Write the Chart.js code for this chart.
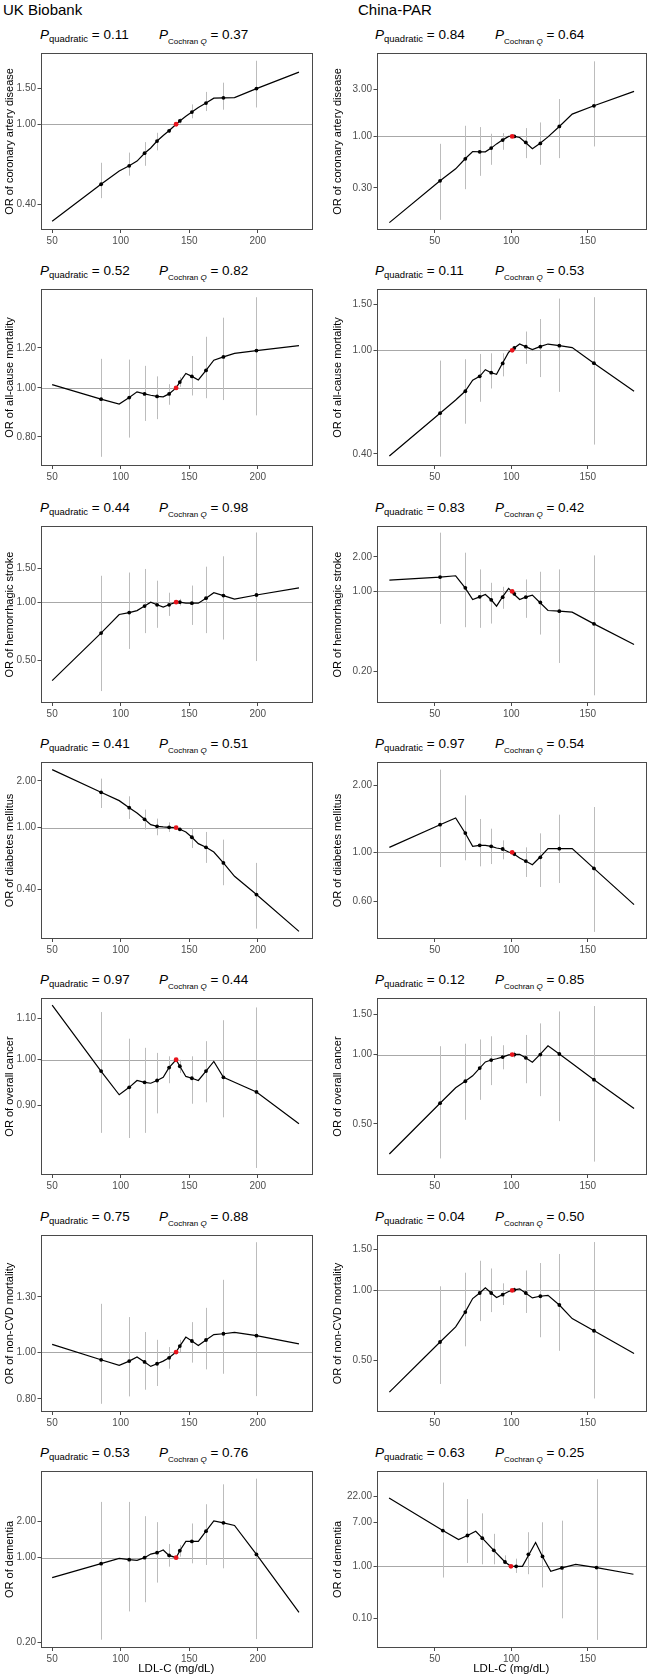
<!DOCTYPE html>
<html>
<head>
<meta charset="utf-8">
<script src="https://cdn.jsdelivr.net/npm/chart.js@4.4.1/dist/chart.umd.min.js"></script>
<style>
  body { margin:0; width:650px; height:1680px; position:relative; background:#fff; overflow:hidden;
         font-family:"Liberation Sans", Arial, sans-serif; color:#000; }
  .hd { position:absolute; top:0; font-size:15px; line-height:19px; }
  .pt { position:absolute; font-size:13.5px; line-height:16px; white-space:nowrap; }
  .pt sub { font-size:9.5px; vertical-align:-3px; line-height:0; }
  .pt sub.cq { font-size:8px; vertical-align:-5px; }
  canvas { position:absolute; }
</style>
</head>
<body>
<div class="hd" style="left:3px">UK Biobank</div>
<div class="hd" style="left:358px">China-PAR</div>
<script>
// ---- datos
const outcomes = ['coronary artery disease', 'all-cause mortality', 'hemorrhagic stroke',
  'diabetes mellitus', 'overall cancer', 'non-CVD mortality', 'dementia'];
const ukPQuad    = ['0.11', '0.52', '0.44', '0.41', '0.97', '0.75', '0.53'];
const ukPCochran = ['0.37', '0.82', '0.98', '0.51', '0.44', '0.88', '0.76'];
const cnPQuad    = ['0.84', '0.11', '0.83', '0.97', '0.12', '0.04', '0.63'];
const cnPCochran = ['0.64', '0.53', '0.42', '0.54', '0.85', '0.50', '0.25'];

const ukXTicks = [50, 100, 150, 200];
const cnXTicks = [50, 100, 150];

// LDL-C de los grupos (sin el de referencia)
const ukLdl    = [85.7, 106.2, 117.4, 126.5, 135.3, 143.1, 151.9, 162.2, 174.9, 199.0];
const cnLdl    = [53.5, 70.0, 79.4, 86.9, 94.4, 102.0, 109.5, 119.0, 131.4, 154.0];
const cnDemLdl = [55.3, 71.4, 81.1, 88.6, 95.9, 103.2, 111.2, 120.4, 133.1, 155.7];
const ukRefLdl = 140.4, cnRefLdl = 100.6, cnDemRefLdl = 99.8;

// vértices de la curva
const ukCurveLdl    = [50, 85.6, 98.9, 106.2, 111.9, 117.4, 121.9, 126.5, 131, 135.2, 140.4, 143.1, 147.5, 151.9, 156.6, 162.2, 167.9, 174.9, 183, 199, 230];
const cnCurveLdl    = [20.4, 53.5, 63.7, 69.9, 74.8, 79.4, 83.1, 86.9, 90.4, 94.2, 98.3, 102, 105.5, 109.3, 113.8, 118.7, 124, 131.4, 139.8, 154, 180.2];
const cnDemCurveLdl = [20.2, 55.3, 65.6, 71.4, 76.8, 81.1, 88.6, 95.9, 99.8, 103.2, 107.3, 115.9, 120.4, 125.8, 133.1, 142.1, 155.7, 179.8];

// UK Biobank
const ukCadCurve = [0.3315, 0.505, 0.587, 0.623, 0.657, 0.719, 0.763, 0.826, 0.880, 0.928, 1.0, 1.038, 1.094, 1.149, 1.21, 1.272, 1.345, 1.35, 1.355, 1.50, 1.81];
const ukCadOr = [0.505, 0.623, 0.719, 0.826, 0.928, 1.038, 1.149, 1.272, 1.35, 1.50];
const ukCadLo = [0.431, 0.557, 0.623, 0.743, 0.905, 1.01, 1.07, 1.162, 1.18, 1.21];
const ukCadHi = [0.645, 0.724, 0.816, 0.907, 0.95, 1.07, 1.253, 1.445, 1.605, 2.06];

const ukAcmCurve = [1.015, 0.950, 0.929, 0.957, 0.982, 0.973, 0.967, 0.962, 0.960, 0.973, 1.0, 1.027, 1.068, 1.054, 1.037, 1.083, 1.135, 1.152, 1.171, 1.186, 1.213];
const ukAcmOr = [0.950, 0.957, 0.973, 0.962, 0.973, 1.027, 1.054, 1.083, 1.152, 1.186];
const ukAcmLo = [0.730, 0.797, 0.860, 0.867, 0.926, 1.005, 0.966, 0.954, 0.946, 0.882];
const ukAcmHi = [1.142, 1.138, 1.106, 1.054, 1.017, 1.05, 1.157, 1.263, 1.378, 1.513];

const ukHsCurve = [0.392, 0.691, 0.863, 0.883, 0.904, 0.954, 1.0, 0.969, 0.943, 0.969, 1.0, 1.0, 0.988, 0.988, 0.988, 1.048, 1.119, 1.081, 1.036, 1.089, 1.186];
const ukHsOr = [0.691, 0.883, 0.954, 0.969, 0.969, 1.0, 0.988, 1.048, 1.081, 1.089];
const ukHsLo = [0.346, 0.572, 0.691, 0.736, 0.849, 0.96, 0.762, 0.691, 0.640, 0.495];
const ukHsHi = [1.37, 1.424, 1.486, 1.292, 1.119, 1.04, 1.219, 1.527, 1.729, 2.297];

const ukDmCurve = [2.362, 1.688, 1.492, 1.345, 1.243, 1.131, 1.045, 1.020, 1.01, 1.005, 1.0, 0.976, 0.938, 0.867, 0.789, 0.747, 0.697, 0.593, 0.486, 0.371, 0.215];
const ukDmOr = [1.688, 1.345, 1.131, 1.020, 1.005, 0.976, 0.867, 0.747, 0.593, 0.371];
const ukDmLo = [1.338, 1.137, 0.971, 0.893, 0.938, 0.95, 0.740, 0.593, 0.426, 0.224];
const ukDmHi = [2.067, 1.591, 1.306, 1.143, 1.082, 1.0, 0.995, 0.938, 0.837, 0.593];

const ukCaCurve = [1.135, 0.974, 0.922, 0.938, 0.953, 0.949, 0.947, 0.953, 0.960, 0.982, 1.0, 0.985, 0.962, 0.958, 0.953, 0.974, 0.996, 0.960, 0.949, 0.928, 0.862];
const ukCaOr = [0.974, 0.938, 0.949, 0.953, 0.982, 0.985, 0.958, 0.974, 0.960, 0.928];
const ukCaLo = [0.844, 0.834, 0.844, 0.883, 0.947, 0.97, 0.903, 0.906, 0.875, 0.778];
const ukCaHi = [1.117, 1.05, 1.028, 1.016, 1.008, 1.0, 1.008, 1.044, 1.096, 1.129];

const ukNcvdCurve = [1.037, 0.964, 0.939, 0.958, 0.977, 0.954, 0.934, 0.946, 0.958, 0.973, 1.0, 1.029, 1.074, 1.054, 1.032, 1.059, 1.087, 1.091, 1.098, 1.081, 1.040];
const ukNcvdOr = [0.964, 0.958, 0.954, 0.946, 0.973, 1.029, 1.054, 1.059, 1.091, 1.081];
const ukNcvdLo = [0.782, 0.810, 0.836, 0.851, 0.924, 1.0, 0.951, 0.921, 0.902, 0.811];
const ukNcvdHi = [1.258, 1.181, 1.1, 1.06, 1.024, 1.06, 1.153, 1.234, 1.41, 1.686];

const ukDemCurve = [0.684, 0.892, 0.987, 0.963, 0.951, 1.0, 1.072, 1.10, 1.157, 1.045, 1.0, 1.142, 1.364, 1.364, 1.364, 1.659, 2.019, 1.944, 1.848, 1.065, 0.352];
const ukDemOr = [0.892, 0.963, 1.0, 1.10, 1.045, 1.142, 1.364, 1.659, 1.944, 1.065];
const ukDemLo = [0.2095, 0.359, 0.428, 0.622, 0.843, 1.02, 0.898, 0.870, 0.817, 0.212];
const ukDemHi = [2.896, 2.896, 2.206, 1.968, 1.296, 1.27, 1.919, 2.77, 4.05, 4.51];

// China-PAR
const cnCadCurve = [0.133, 0.354, 0.469, 0.593, 0.703, 0.698, 0.698, 0.761, 0.84, 0.918, 1.0, 1.0, 0.975, 0.869, 0.749, 0.849, 0.99, 1.264, 1.688, 2.05, 2.87];
const cnCadOr = [0.354, 0.593, 0.698, 0.761, 0.918, 1.0, 0.869, 0.849, 1.264, 2.05];
const cnCadLo = [0.142, 0.291, 0.398, 0.515, 0.732, 0.97, 0.602, 0.515, 0.602, 0.791];
const cnCadHi = [0.842, 1.284, 1.245, 1.065, 1.08, 1.03, 1.216, 1.388, 2.40, 5.80];

const cnAcmCurve = [0.392, 0.573, 0.644, 0.696, 0.767, 0.794, 0.842, 0.820, 0.808, 0.890, 0.983, 1.021, 1.057, 1.033, 1.006, 1.033, 1.057, 1.042, 1.024, 0.892, 0.696];
const cnAcmOr = [0.573, 0.696, 0.794, 0.820, 0.890, 1.021, 1.033, 1.033, 1.042, 0.892];
const cnAcmLo = [0.390, 0.522, 0.634, 0.713, 0.794, 1.0, 0.887, 0.789, 0.692, 0.434];
const cnAcmHi = [0.913, 0.924, 0.968, 0.974, 0.974, 1.04, 1.181, 1.319, 1.581, 1.60];

const cnHsCurve = [1.256, 1.334, 1.37, 1.076, 0.851, 0.898, 0.941, 0.846, 0.745, 0.892, 1.062, 0.941, 0.851, 0.892, 0.929, 0.802, 0.682, 0.673, 0.660, 0.522, 0.3445];
const cnHsOr = [1.334, 1.076, 0.898, 0.846, 0.892, 0.954, 0.892, 0.802, 0.673, 0.522];
const cnHsLo = [0.522, 0.488, 0.482, 0.525, 0.706, 0.92, 0.589, 0.421, 0.238, 0.1244];
const cnHsHi = [3.253, 2.176, 1.556, 1.19, 1.098, 0.99, 1.273, 1.485, 1.556, 2.062];

const cnDmCurve = [1.053, 1.331, 1.426, 1.221, 1.064, 1.075, 1.075, 1.064, 1.046, 1.035, 1.003, 0.98, 0.943, 0.914, 0.880, 0.950, 1.039, 1.039, 1.039, 0.847, 0.582];
const cnDmOr = [1.331, 1.221, 1.075, 1.064, 1.035, 0.983, 0.914, 0.950, 1.039, 0.847];
const cnDmLo = [0.859, 0.921, 0.865, 0.886, 0.930, 0.96, 0.775, 0.699, 0.728, 0.439];
const cnDmHi = [2.352, 1.803, 1.412, 1.277, 1.132, 1.0, 1.053, 1.217, 1.476, 1.598];

const cnCaCurve = [0.370, 0.615, 0.718, 0.766, 0.809, 0.874, 0.929, 0.947, 0.959, 0.975, 0.997, 1.003, 1.003, 0.968, 0.926, 1.0, 1.091, 1.006, 0.915, 0.778, 0.583];
const cnCaOr = [0.615, 0.766, 0.874, 0.947, 0.975, 1.0, 0.968, 1.0, 1.006, 0.778];
const cnCaLo = [0.354, 0.521, 0.636, 0.737, 0.863, 0.97, 0.751, 0.660, 0.514, 0.343];
const cnCaHi = [1.087, 1.115, 1.163, 1.201, 1.098, 1.03, 1.217, 1.366, 1.539, 1.625];

const cnNcvdCurve = [0.3655, 0.600, 0.697, 0.807, 0.923, 0.975, 1.026, 0.975, 0.932, 0.959, 0.990, 1.006, 1.016, 0.975, 0.929, 0.944, 0.953, 0.866, 0.757, 0.671, 0.536];
const cnNcvdOr = [0.600, 0.807, 0.975, 0.975, 0.959, 1.006, 0.975, 0.944, 0.866, 0.671];
const cnNcvdLo = [0.396, 0.575, 0.738, 0.807, 0.866, 0.98, 0.800, 0.629, 0.550, 0.343];
const cnNcvdHi = [1.042, 1.192, 1.342, 1.243, 1.073, 1.03, 1.219, 1.312, 1.435, 1.615];

const cnDemCurve = [20.7, 4.89, 3.29, 3.93, 4.75, 3.49, 2.03, 1.21, 1.0, 1.0, 1.0, 2.88, 1.55, 0.802, 0.929, 1.092, 0.943, 0.703];
const cnDemOr = [4.89, 3.93, 3.49, 2.03, 1.21, 1.0, 1.70, 1.55, 0.929, 0.943];
const cnDemLo = [0.607, 1.158, 1.092, 1.092, 1.092, 0.745, 0.703, 0.39, 0.099, 0.038];
const cnDemHi = [41.3, 19.8, 10.5, 4.23, 1.626, 1.403, 4.54, 7.07, 7.6, 47.8];

// ---- tabla de paneles (límites del eje y y marcas)
const uk = (row, yMin, yMax, yTicks, cy, or, lo, hi) =>
  ({ col: 0, row, yMin, yMax, yTicks, cx: ukCurveLdl, cy, px: ukLdl, or, lo, hi, ref: ukRefLdl });
const cn = (row, yMin, yMax, yTicks, cy, or, lo, hi, cx = cnCurveLdl, px = cnLdl, ref = cnRefLdl) =>
  ({ col: 1, row, yMin, yMax, yTicks, cx, cy, px, or, lo, hi, ref });

const panels = [
  uk(0, 0.3076, 2.25, [0.4, 1, 1.5], ukCadCurve, ukCadOr, ukCadLo, ukCadHi),
  uk(1, 0.700, 1.571, [0.8, 1, 1.2], ukAcmCurve, ukAcmOr, ukAcmLo, ukAcmHi),
  uk(2, 0.3166, 2.482, [0.5, 1, 1.5], ukHsCurve, ukHsOr, ukHsLo, ukHsHi),
  uk(3, 0.192, 2.645, [0.4, 1, 2], ukDmCurve, ukDmOr, ukDmLo, ukDmHi),
  uk(4, 0.7654, 1.154, [0.9, 1, 1.1], ukCaCurve, ukCaOr, ukCaLo, ukCaHi),
  uk(5, 0.752, 1.745, [0.8, 1, 1.3], ukNcvdCurve, ukNcvdOr, ukNcvdLo, ukNcvdHi),
  uk(6, 0.1788, 5.22, [0.2, 1, 2], ukDemCurve, ukDemOr, ukDemLo, ukDemHi),
  cn(0, 0.112, 7.05, [0.3, 1, 3], cnCadCurve, cnCadOr, cnCadLo, cnCadHi),
  cn(1, 0.359, 1.721, [0.4, 1, 1.5], cnAcmCurve, cnAcmOr, cnAcmLo, cnAcmHi),
  cn(2, 0.1066, 3.72, [0.2, 1, 2], cnHsCurve, cnHsOr, cnHsLo, cnHsHi),
  cn(3, 0.408, 2.546, [0.6, 1, 2], cnDmCurve, cnDmOr, cnDmLo, cnDmHi),
  cn(4, 0.320, 1.761, [0.5, 1, 1.5], cnCaCurve, cnCaOr, cnCaLo, cnCaHi),
  cn(5, 0.3166, 1.732, [0.5, 1, 1.5], cnNcvdCurve, cnNcvdOr, cnNcvdLo, cnNcvdHi),
  cn(6, 0.0265, 69, [0.1, 1, 7, 22], cnDemCurve, cnDemOr, cnDemLo, cnDemHi, cnDemCurveLdl, cnDemLdl, cnDemRefLdl),
];

// ---- dibujo
const FONT = '"Liberation Sans", Arial, sans-serif';
const ROW_STEP = 236.3, BOX_TOP0 = 53, BOX_H = 177, PAD_TOP = 8;

// línea OR = 1, barras de error y marco del panel
function deco(p) {
  return {
    id: 'deco',
    beforeDatasetsDraw(chart) {
      const { ctx, chartArea: a, scales: { x, y } } = chart;
      ctx.save();
      ctx.beginPath(); ctx.rect(a.left, a.top, a.width, a.height); ctx.clip();
      ctx.lineWidth = 1;
      ctx.strokeStyle = '#a8a8a8';
      const y1 = Math.round(y.getPixelForValue(1)) + 0.5;
      ctx.beginPath(); ctx.moveTo(a.left, y1); ctx.lineTo(a.right, y1); ctx.stroke();
      ctx.strokeStyle = '#bcbcbc';
      p.px.forEach((v, i) => {
        const xp = Math.round(x.getPixelForValue(v)) + 0.5;
        ctx.beginPath();
        ctx.moveTo(xp, y.getPixelForValue(p.lo[i]));
        ctx.lineTo(xp, y.getPixelForValue(p.hi[i]));
        ctx.stroke();
      });
      ctx.restore();
    },
    afterDraw(chart) {
      const { ctx, chartArea: a } = chart;
      ctx.save();
      ctx.strokeStyle = '#4a4a4a'; ctx.lineWidth = 1;
      ctx.strokeRect(Math.round(a.left) + 0.5, Math.round(a.top) + 0.5,
                     Math.round(a.width) - 1, Math.round(a.height) - 1);
      ctx.restore();
    }
  };
}

function addTitle(p) {
  const boxTop = BOX_TOP0 + ROW_STEP * p.row;
  const x0 = p.col === 0 ? 40 : 375;
  const x1 = p.col === 0 ? 159 : 495;
  const q = p.col === 0 ? ukPQuad[p.row] : cnPQuad[p.row];
  const c = p.col === 0 ? ukPCochran[p.row] : cnPCochran[p.row];
  const top = Math.round(boxTop - 18 - 8);
  const a = document.createElement('div');
  a.className = 'pt'; a.style.left = x0 + 'px'; a.style.top = top + 'px';
  a.innerHTML = `<i>P</i><sub>quadratic</sub> = ${q}`;
  const b = document.createElement('div');
  b.className = 'pt'; b.style.left = x1 + 'px'; b.style.top = top + 'px';
  b.innerHTML = `<i>P</i><sub class="cq">Cochran <i>Q</i></sub> = ${c}`;
  document.body.append(a, b);
}

function makeChart(p) {
  const left = p.col === 0;
  const bottomRow = p.row === 6;
  const xh = bottomRow ? 31 : 21;
  const boxTop = BOX_TOP0 + ROW_STEP * p.row;
  const W = 325, H = PAD_TOP + BOX_H + xh;
  const cv = document.createElement('canvas');
  cv.width = W; cv.height = H;
  cv.style.left = (left ? 0 : 325) + 'px';
  cv.style.top = (Math.round(boxTop) - PAD_TOP) + 'px';
  document.body.appendChild(cv);

  const xTicks = left ? ukXTicks : cnXTicks;
  const tickFont = { family: FONT, size: 10 };
  const gridOpts = { drawOnChartArea: false, drawTicks: true, tickLength: 3, color: '#4a4a4a', tickColor: '#4a4a4a' };

  new Chart(cv, {
    type: 'scatter',
    data: {
      datasets: [
        { data: [{ x: p.ref, y: 1 }], backgroundColor: '#e8141c', borderWidth: 0, pointRadius: 2.4, order: 0 },
        { data: p.px.map((x, i) => ({ x, y: p.or[i] })), backgroundColor: '#000', borderWidth: 0, pointRadius: 1.9, order: 1 },
        { data: p.cx.map((x, i) => ({ x, y: p.cy[i] })), showLine: true, borderColor: '#000',
          borderWidth: 1.2, pointRadius: 0, tension: 0, order: 2 }
      ]
    },
    options: {
      responsive: false, animation: false, events: [],
      layout: { padding: { top: PAD_TOP, right: left ? 13 : 2.5, left: 0, bottom: 0 } },
      plugins: { legend: { display: false }, tooltip: { enabled: false } },
      scales: {
        x: {
          type: 'linear', min: left ? 41.5 : 12, max: left ? 239.5 : 188,
          afterBuildTicks: s => { s.ticks = xTicks.map(v => ({ value: v })); },
          afterFit: s => { s.height = xh; },
          ticks: { color: '#4d4d4d', font: tickFont, padding: 2, maxRotation: 0, autoSkip: false },
          grid: gridOpts, border: { display: false },
          title: { display: bottomRow, text: 'LDL-C (mg/dL)', color: '#000',
                   font: { family: FONT, size: 11.5 }, padding: { top: 0, bottom: 3 } }
        },
        y: {
          type: 'logarithmic', min: p.yMin, max: p.yMax,
          afterBuildTicks: s => { s.ticks = p.yTicks.map(v => ({ value: v })); },
          afterFit: s => { s.width = left ? 40.5 : 51.5; },
          ticks: { color: '#4d4d4d', font: tickFont, padding: 1.5, autoSkip: false,
                   callback: v => Number(v).toFixed(2) },
          grid: gridOpts, border: { display: false },
          title: { display: true, text: 'OR of ' + outcomes[p.row], color: '#000',
                   font: { family: FONT, size: 11 }, padding: { top: left ? 3 : 6.7, bottom: 0 } }
        }
      }
    },
    plugins: [deco(p)]
  });
}

panels.forEach(p => { addTitle(p); makeChart(p); });
</script>
</body>
</html>
